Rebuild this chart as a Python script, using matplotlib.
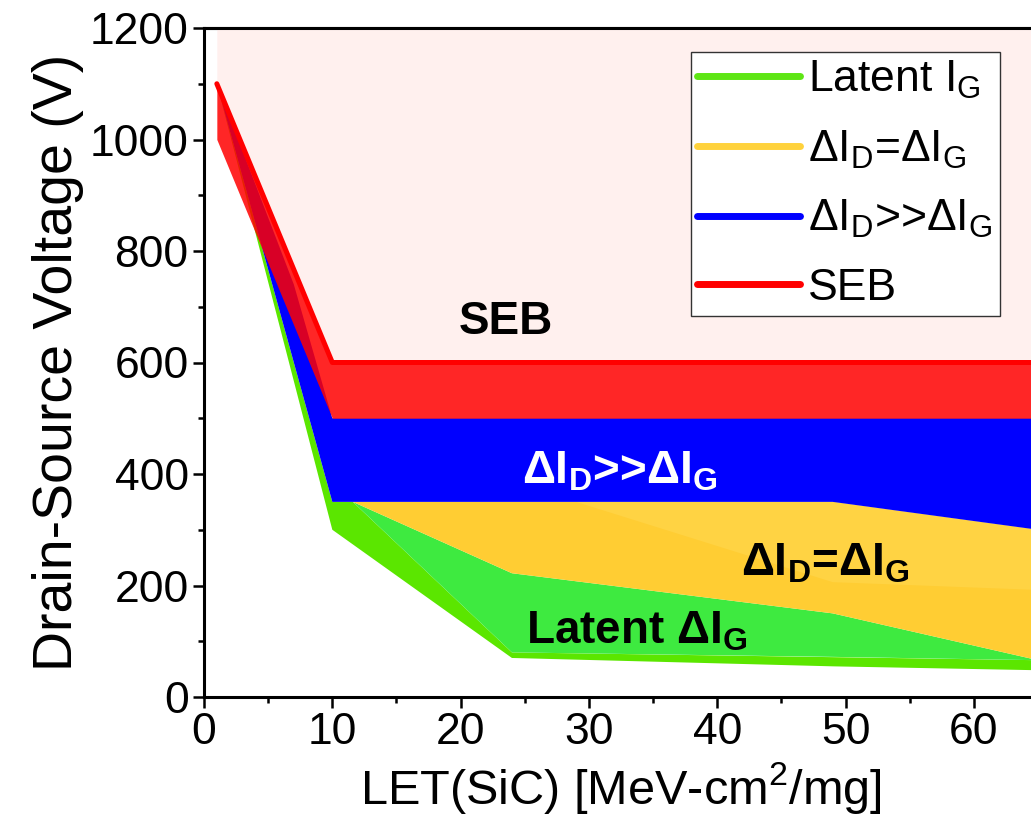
import matplotlib
matplotlib.use("Agg")
import matplotlib.pyplot as plt
from matplotlib.lines import Line2D
from matplotlib.ticker import MultipleLocator

plt.rcParams['font.family'] = ['Liberation Sans', 'DejaVu Sans']
plt.rcParams['mathtext.fontset'] = 'custom'
plt.rcParams['mathtext.rm'] = 'Liberation Sans'
plt.rcParams['mathtext.it'] = 'Liberation Sans:italic'
plt.rcParams['mathtext.bf'] = 'Liberation Sans:bold'

# ---- region boundaries: LET (MeV-cm2/mg) vs drain-source voltage (V) ----
# SEB band
seb_let = [1, 10, 65]
seb_upper = [1100, 600, 600]
seb_lower = [1000, 500, 500]

# dI_D >> dI_G band (closed polygon)
blue_let = [1, 10, 49, 65, 65, 10, 7]
blue_v = [1100, 350, 350, 300, 500, 500, 740]

# dI_D = dI_G band
yellow_let = [10, 49, 65, 65, 49, 24, 11.6]
yellow_v = [350, 350, 300, 66, 150, 222, 350]
yellow_hi_let = [29, 49, 65, 65, 49]
yellow_hi_v = [350, 350, 300, 192, 206]

# latent dI_G band
lime_let = [1, 10, 24, 49, 65, 65, 24, 11.6, 10]
lime_v = [1100, 300, 70, 55, 48, 66, 80, 350, 350]
green_let = [11.6, 24, 49, 65, 49, 24]
green_v = [350, 80, 72, 66, 150, 222]

legend_labels = ['Latent I$_\\mathrm{G}$',
                 'ΔI$_\\mathrm{D}$=ΔI$_\\mathrm{G}$',
                 'ΔI$_\\mathrm{D}$>>ΔI$_\\mathrm{G}$',
                 'SEB']
legend_colors = ['#5EE614', '#FFD23C', '#0000FF', '#FF0000']

fig = plt.figure(figsize=(10.31, 8.33), dpi=100)
ax = fig.add_axes([204 / 1031, (833 - 697) / 833, 834 / 1031, 669 / 833])

# safe-operating background above the SEB threshold
ax.fill_between(seb_let, seb_upper, 1200, color='#FFF0EE', lw=0, zorder=1)

ax.fill(lime_let, lime_v, color='#5BE600', lw=0, zorder=2)
ax.fill(green_let, green_v, color='#3EEA40', lw=0, zorder=3)
ax.fill(yellow_let, yellow_v, color='#FFCD33', lw=0, zorder=3)
ax.fill(yellow_hi_let, yellow_hi_v, color='#FFD343', lw=0, zorder=3)
ax.fill(blue_let, blue_v, color='#0000FF', lw=0, zorder=4)
ax.fill_between(seb_let, seb_lower, seb_upper, color='#FF0000', alpha=0.85,
                lw=0, zorder=5)
ax.plot(seb_let, seb_upper, color='#FF0000', lw=3.6, solid_capstyle='round',
        solid_joinstyle='round', zorder=6)

# region labels
ax.text(23.5, 672, 'SEB', fontsize=33, fontweight='bold', ha='center',
        va='center', zorder=7)
ax.text(32.4, 405, 'ΔI$_\\mathbf{D}$>>ΔI$_\\mathbf{G}$', fontsize=33,
        fontweight='bold', color='white', ha='center', va='center', zorder=7)
ax.text(48.4, 240, 'ΔI$_\\mathbf{D}$=ΔI$_\\mathbf{G}$', fontsize=33,
        fontweight='bold', ha='center', va='center', zorder=7)
ax.text(33.7, 118, 'Latent ΔI$_\\mathbf{G}$', fontsize=33, fontweight='bold',
        ha='center', va='center', zorder=7)

ax.set_xlim(0, 65)
ax.set_ylim(0, 1200)
ax.xaxis.set_major_locator(MultipleLocator(10))
ax.xaxis.set_minor_locator(MultipleLocator(5))
ax.yaxis.set_major_locator(MultipleLocator(200))
ax.yaxis.set_minor_locator(MultipleLocator(100))

for s in ax.spines.values():
    s.set_linewidth(2.2)
    s.set_zorder(10)

ax.tick_params(which='both', labelsize=32, width=1.8, pad=3)
ax.tick_params(which='major', length=8)
ax.tick_params(which='minor', length=4)
ax.tick_params(axis='x', which='both', direction='out', top=False)
ax.tick_params(axis='y', which='both', direction='out', right=False)

# inward ticks on the mirrored top and right axes
top = ax.secondary_xaxis('top')
top.xaxis.set_major_locator(MultipleLocator(10))
top.xaxis.set_minor_locator(MultipleLocator(5))
top.tick_params(which='both', direction='in', width=1.8, labeltop=False)
top.tick_params(which='major', length=8)
top.tick_params(which='minor', length=4)
right = ax.secondary_yaxis('right')
right.yaxis.set_major_locator(MultipleLocator(200))
right.yaxis.set_minor_locator(MultipleLocator(100))
right.tick_params(which='both', direction='in', width=1.8, labelright=False)
right.tick_params(which='major', length=8)
right.tick_params(which='minor', length=4)
top.spines['top'].set_linewidth(2.2)
right.spines['right'].set_linewidth(2.2)

ax.set_xlabel('LET(SiC) [MeV-cm$^2$/mg]', fontsize=35, labelpad=5)
ax.set_ylabel('Drain-Source Voltage (V)', fontsize=40, labelpad=4)

handles = [Line2D([0], [0], color=c, lw=5, solid_capstyle='round')
           for c in legend_colors]
leg = ax.legend(handles, legend_labels, loc='upper right',
                bbox_to_anchor=(0.954, 0.964), borderaxespad=0,
                fontsize=32, handlelength=2.3, handletextpad=0.2,
                labelspacing=0.62, borderpad=0.15, fancybox=False,
                framealpha=1, edgecolor='#333333')
leg.get_frame().set_linewidth(1.0)
leg.set_zorder(11)

fig.savefig('out.png', dpi=100)
